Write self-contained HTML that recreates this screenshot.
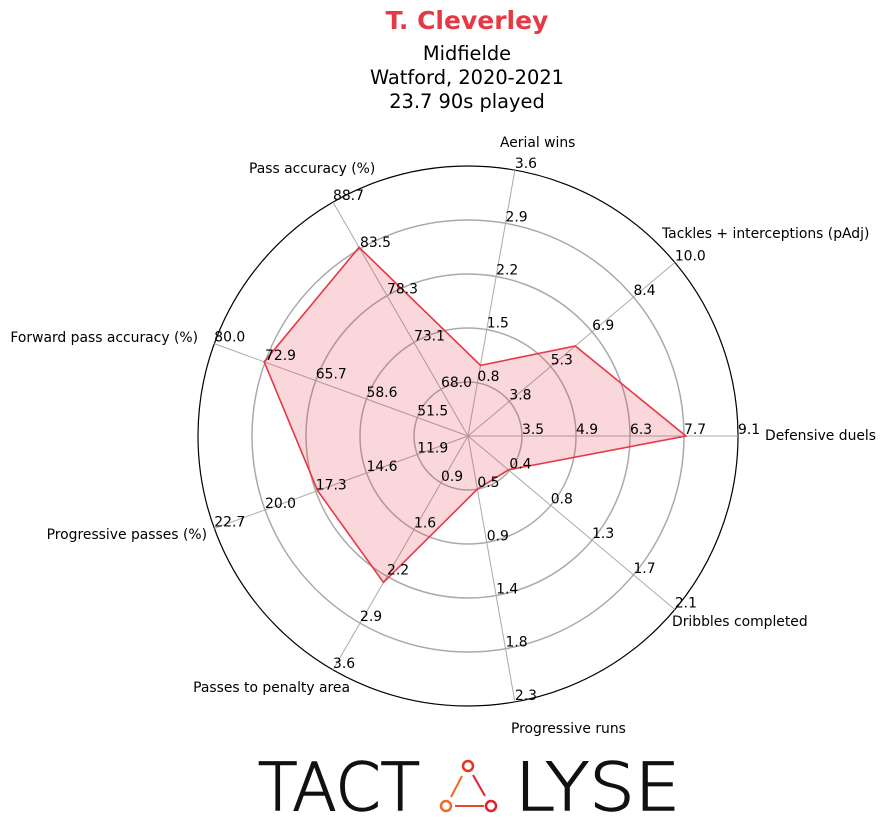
<!DOCTYPE html>
<html><head><meta charset="utf-8"><style>
html,body{margin:0;padding:0;background:#fff;}
svg{display:block;font-family:"Liberation Sans","DejaVu Sans",sans-serif;}
</style></head><body>
<svg id="chart" width="890" height="824" viewBox="0 0 890 824" xmlns="http://www.w3.org/2000/svg">
<text x="467" y="29" text-anchor="middle" font-size="25" font-weight="bold" fill="#e63946" font-family="DejaVu Sans, sans-serif">T. Cleverley</text>
<text x="467" y="60" text-anchor="middle" font-size="19.4" font-family="DejaVu Sans, sans-serif">Midfielde</text>
<text x="467" y="84" text-anchor="middle" font-size="19.4" font-family="DejaVu Sans, sans-serif">Watford, 2020-2021</text>
<text x="467" y="108" text-anchor="middle" font-size="19.4" font-family="DejaVu Sans, sans-serif">23.7 90s played</text>
<g id="grid"></g>
<g id="poly"></g>
<g id="ticks" font-size="13.9" font-family="DejaVu Sans, sans-serif"></g>
<g id="cats" font-size="13.9" font-family="DejaVu Sans, sans-serif"></g>
<g>
<text x="258" y="810" font-size="66" textLength="162" lengthAdjust="spacingAndGlyphs" font-family="DejaVu Sans, sans-serif" font-weight="200" fill="#111" stroke="#111" stroke-width="1.5">TACT</text>
<text x="515" y="810" font-size="66" textLength="165" lengthAdjust="spacingAndGlyphs" font-family="DejaVu Sans, sans-serif" font-weight="200" fill="#111" stroke="#111" stroke-width="1.5">LYSE</text>
<circle cx="468" cy="766" r="5" fill="none" stroke="#e63322" stroke-width="2.5"/>
<circle cx="446" cy="806" r="5" fill="none" stroke="#f06a22" stroke-width="2.5"/>
<circle cx="491" cy="806" r="5" fill="none" stroke="#e0202a" stroke-width="2.5"/>
<line x1="451" y1="797" x2="462" y2="776" stroke="#f06a22" stroke-width="2"/>
<line x1="473" y1="775" x2="485" y2="796" stroke="#e0202a" stroke-width="2"/>
<line x1="484" y1="806" x2="455" y2="806" stroke="#e8452a" stroke-width="2"/>
</g>
</svg>
<script>
const categories = ["Defensive duels","Tackles + interceptions (pAdj)","Aerial wins","Pass accuracy (%)","Forward pass accuracy (%)","Progressive passes (%)","Passes to penalty area","Progressive runs","Dribbles completed"];
const values = [7.75, 6.27, 1.03, 83.7, 73.0, 17.2, 2.34, 0.5, 0.39];
const axisMin = [2.1, 2.25, 0.1, 62.8, 44.4, 9.2, 0.23, 0.05, -0.025];
const axisMax = [9.1, 10.0, 3.6, 88.7, 80.0, 22.7, 3.6, 2.3, 2.1];
const tickLabels = [
 ["3.5","4.9","6.3","7.7","9.1"],
 ["3.8","5.3","6.9","8.4","10.0"],
 ["0.8","1.5","2.2","2.9","3.6"],
 ["68.0","73.1","78.3","83.5","88.7"],
 ["51.5","58.6","65.7","72.9","80.0"],
 ["11.9","14.6","17.3","20.0","22.7"],
 ["0.9","1.6","2.2","2.9","3.6"],
 ["0.5","0.9","1.4","1.8","2.3"],
 ["0.4","0.8","1.3","1.7","2.1"]
];
const catPos = [[765,440,"start"],[662,238,"start"],[500,147,"start"],[249,173,"start"],[198,342,"end"],[207,539,"end"],[350,692,"end"],[511,733,"start"],[672,626,"start"]];
const NS="http://www.w3.org/2000/svg";
const cx=468, cy=436, R=270, n=categories.length;
function ang(i){return i*2*Math.PI/n;}
function pt(i,r){return [cx+r*Math.cos(ang(i)), cy-r*Math.sin(ang(i))];}
function rScale(i,v){return (v-axisMin[i])/(axisMax[i]-axisMin[i])*R;}
function mk(tag,attrs,parent){const e=document.createElementNS(NS,tag);for(const k in attrs)e.setAttribute(k,attrs[k]);parent.appendChild(e);return e;}
const grid=document.getElementById('grid');
for(let k=1;k<=4;k++){
 const c=mk('circle',{cx:cx,cy:cy,r:R*k/5,fill:'none',stroke:'#aaa','stroke-width':1.5},grid);
 
 
}
const outer=mk('circle',{cx:cx,cy:cy,r:R,fill:'none',stroke:'#000','stroke-width':1.2},grid);


for(let i=0;i<n;i++){
 const p=pt(i,R);
 const l=mk('line',{x1:cx,y1:cy,x2:p[0],y2:p[1],stroke:'#aaa','stroke-width':1},grid);
 
 
}
const pts=values.map((v,i)=>pt(i,rScale(i,v)).join(',')).join(' ');
const pg=mk('polygon',{points:pts,fill:'rgba(230,57,70,0.2)',stroke:'#e63946','stroke-width':1.6},document.getElementById('poly'));


const tg=document.getElementById('ticks');
for(let i=0;i<n;i++){
 for(let k=0;k<5;k++){
  const p=pt(i,R*(k+1)/5);
  const t=mk('text',{x:p[0],y:p[1]-2},tg);
  t.textContent=tickLabels[i][k];
  
  
 }
}
const cg=document.getElementById('cats');
for(let i=0;i<n;i++){
 const t=mk('text',{x:catPos[i][0],y:catPos[i][1],'text-anchor':catPos[i][2]},cg);
 t.textContent=categories[i];
 
 
}
</script>
</body></html>
